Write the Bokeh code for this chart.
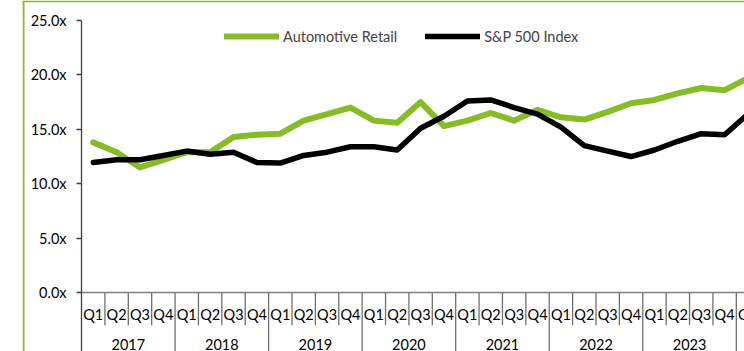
from bokeh.plotting import figure
from bokeh.models import (FixedTicker, Legend, LegendItem, BoxAnnotation, Range1d,
                          PrintfTickFormatter, Span, LinearAxis)
from bokeh.core.properties import value
from bokeh.embed import file_html
from bokeh.resources import INLINE

# ---------------- data ----------------
years = ["2017", "2018", "2019", "2020", "2021", "2022", "2023"]
quarter_labels = ["Q1", "Q2", "Q3", "Q4"]
# 7 full years plus Q1 2024 (partially visible at the right edge)
period_quarters = quarter_labels * len(years) + ["Q1"]

automotive_retail = [13.8, 12.9, 11.5, 12.2, 12.9, 12.9, 14.3, 14.5,
                     14.6, 15.8, 16.4, 17.0, 15.8, 15.6, 17.5, 15.3,
                     15.8, 16.5, 15.8, 16.8, 16.1, 15.9, 16.6, 17.4,
                     17.7, 18.3, 18.8, 18.6, 19.7]
sp500 = [11.95, 12.2, 12.2, 12.6, 13.0, 12.7, 12.9, 11.95,
         11.9, 12.6, 12.9, 13.4, 13.4, 13.1, 15.1, 16.2,
         17.6, 17.7, 17.0, 16.4, 15.2, 13.5, 13.0, 12.5,
         13.1, 13.9, 14.6, 14.5, 16.4]
y_ticks = [0, 5, 10, 15, 20, 25]

GREEN = "#86BC25"
FONT = "Lato"
FS = "14.5px"

n = len(period_quarters)
xs = [i + 0.5 for i in range(n)]

X0, X1 = -2.524, 28.35
Y0, Y1 = -5.42, 26.84

p = figure(width=744, height=351, output_backend="svg", toolbar_location=None,
           x_axis_type=None, y_axis_type=None,
           x_range=Range1d(X0, X1), y_range=Range1d(Y0, Y1),
           min_border_left=22, min_border_right=0, min_border_top=0, min_border_bottom=0)
p.outline_line_color = None
p.grid.visible = False
p.background_fill_color = "white"
p.border_fill_color = "white"

# y axis, drawn at x = 0 inside the frame
ya = LinearAxis(fixed_location=0, bounds=(Y0, 25))
ya.ticker = FixedTicker(ticks=y_ticks)
ya.formatter = PrintfTickFormatter(format="%.1fx")
ya.major_tick_out = 5
ya.major_tick_in = 0
ya.minor_tick_line_color = None
ya.axis_line_color = "#404040"
ya.axis_line_width = 1.3
ya.major_tick_line_color = "#404040"
ya.major_tick_line_width = 1.3
ya.major_label_standoff = 10
ya.major_label_text_font = FONT
ya.major_label_text_font_size = FS
ya.major_label_text_color = "black"
p.add_layout(ya, "left")

# category axis (drawn as a table below the zero line)
p.segment(x0=[0], y0=[0], x1=[X1 + 1], y1=[0], line_color="#808080", line_width=1.5)
q_sep = [k for k in range(1, n) if k % 4 != 0]
y_sep = [k for k in range(4, n, 4)]
p.segment(x0=q_sep, y0=[0] * len(q_sep), x1=q_sep, y1=[-3.0] * len(q_sep),
          line_color="#707070", line_width=1.3)
p.segment(x0=y_sep, y0=[0] * len(y_sep), x1=y_sep, y1=[Y0] * len(y_sep),
          line_color="#707070", line_width=1.3)
p.text(x=xs, y=[-2.02] * n, text=period_quarters, text_align="center",
       text_baseline="middle", text_font=value(FONT), text_font_size=FS, text_color="black")
year_x = [4 * i + 2 for i in range(len(years))]
p.text(x=year_x, y=[-4.3] * len(years), text=years, text_align="center",
       text_baseline="top", text_font=value(FONT), text_font_size=FS, text_color="black")

# series
g = p.line(xs, automotive_retail, line_color=GREEN, line_width=6,
           line_join="round", line_cap="round")
b = p.line(xs, sp500, line_color="black", line_width=5.5,
           line_join="round", line_cap="round")

legend = Legend(items=[LegendItem(label="Automotive Retail", renderers=[g]),
                       LegendItem(label="S&P 500 Index", renderers=[b])],
                orientation="horizontal", location=(202, 305),
                glyph_width=55, glyph_height=20, label_standoff=4, spacing=28,
                padding=0, margin=0, border_line_color=None, background_fill_alpha=0,
                label_text_font=FONT, label_text_font_size=FS)
p.add_layout(legend)

# green frame border (left and top edges of the chart box)
p.add_layout(BoxAnnotation(left=None, right=X0 + 2 / 23.375, top=None, bottom=None,
                           fill_color=GREEN, fill_alpha=1, line_color=None))
p.add_layout(BoxAnnotation(left=None, right=None, top=None, bottom=Y1 - 1.7 / 10.88,
                           fill_color=GREEN, fill_alpha=1, line_color=None))

open("out.html", "w").write(file_html(p, INLINE))
